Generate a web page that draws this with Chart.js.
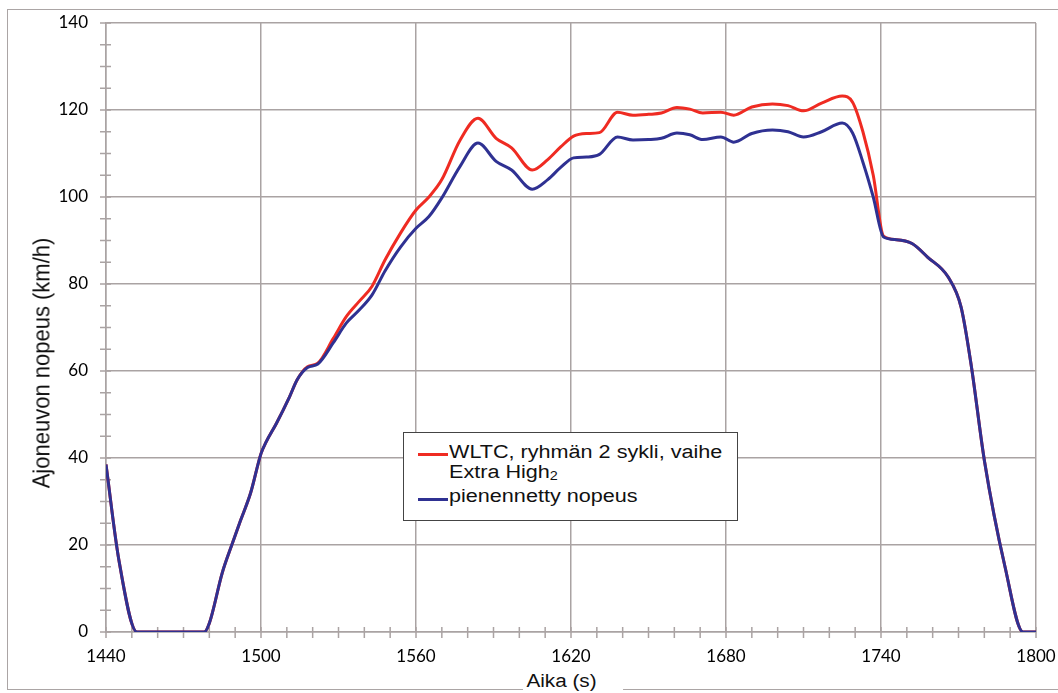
<!DOCTYPE html>
<html>
<head>
<meta charset="utf-8">
<script src="https://cdn.jsdelivr.net/npm/chart.js@4.4.0/dist/chart.umd.min.js"></script>
<style>
  html, body { margin: 0; padding: 0; background: #fff; }
  #wrap { position: relative; width: 1058px; height: 693px; overflow: hidden; }
  #frame { position: absolute; left: 7px; top: 9px; width: 1070px; height: 679px; border: 1.5px solid #aba5a5; }
  #speedChart { position: absolute; left: 0; top: 0; }
  .axis-title { position: absolute; font-family: "Liberation Sans", Arial, sans-serif; color: #111; white-space: nowrap; }
  #yTitle { left: -108px; top: 351px; width: 300px; height: 24px; line-height: 24px; font-size: 22px; text-align: center; transform: rotate(-90deg) scaleY(1.12); }
  #xTitle { left: 523px; top: 670px; width: 84px; height: 22px; line-height: 22px; font-size: 18px; padding-left: 3px; background: #fff; transform: scaleX(1.15); transform-origin: left center; }
  #legend { position: absolute; left: 403px; top: 432px; width: 333px; height: 87px; border: 1.5px solid #444; background: #fff; }
  .lg-line { position: absolute; left: 14px; width: 30px; height: 3px; }
  .lg-text { position: absolute; left: 45px; font-family: "Liberation Sans", Arial, sans-serif; font-size: 18px; line-height: 20px; color: #111; white-space: nowrap; transform: scaleX(1.2); transform-origin: left center; }
  .lg-text sub { font-size: 12px; vertical-align: -2px; }
</style>
</head>
<body>
<div id="wrap">
  <div id="frame"></div>
  <canvas id="speedChart" width="1058" height="693"></canvas>
  <div class="axis-title" id="yTitle">Ajoneuvon nopeus (km/h)</div>
  <div class="axis-title" id="xTitle">Aika (s)</div>
  <div id="legend">
    <div class="lg-line" style="top:20px;background:#ef2b22"></div>
    <div class="lg-text" style="top:9px">WLTC, ryhmän 2 sykli, vaihe</div>
    <div class="lg-text" style="top:29px">Extra High<sub>2</sub></div>
    <div class="lg-line" style="top:65px;background:#2f3192"></div>
    <div class="lg-text" style="top:53px">pienennetty nopeus</div>
  </div>
</div>
<script>
// time stamps (s) and speeds (km/h)
const times = [1440, 1445, 1452, 1478, 1480, 1485, 1489, 1492, 1496, 1500,
    1502, 1506, 1511, 1514, 1518, 1522, 1528, 1533, 1538, 1543,
    1548, 1554, 1560, 1565, 1570, 1577, 1584, 1591, 1597, 1605,
    1611, 1616, 1621, 1626, 1631, 1638, 1644, 1650, 1655, 1661,
    1666, 1671, 1678, 1683, 1690, 1698, 1704, 1710, 1717, 1725,
    1729, 1733, 1737, 1741, 1746, 1752, 1758, 1766, 1771, 1775,
    1780, 1788, 1795, 1800];

const wltcSpeed = [38.5, 16.5, 0, 0, 2, 13.6, 20.5, 25.5, 32, 41,
    43.7, 48, 54, 58, 61, 61.8, 67.5, 72.5, 76, 79.5,
    85.5, 91.7, 97, 100, 104, 113, 118.1, 113.5, 111.3, 106.2,
    108.6, 111.5, 114, 114.6, 114.8, 119.5, 118.8, 119, 119.3, 120.6,
    120.2, 119.3, 119.5, 118.8, 120.7, 121.4, 121, 119.8, 121.6, 123.2,
    121.8, 115, 105, 91, 90.2, 89.3, 86.2, 81.6, 74.7, 61,
    39.5, 15, 0, 0];

const reducedSpeed = [38.5, 16.5, 0, 0, 2, 13.6, 20.5, 25.5, 32, 41,
    43.7, 48, 54, 58, 60.8, 61.6, 66.5, 71, 74, 77.5,
    83, 88.5, 92.8, 95.5, 99.8, 107, 112.4, 108.2, 106.2, 101.8,
    104, 106.8, 109, 109.2, 109.8, 113.8, 113.1, 113.2, 113.5, 114.7,
    114.3, 113.2, 113.8, 112.6, 114.6, 115.4, 115, 113.8, 115, 117,
    114.7, 108, 100, 90.8, 90.2, 89.3, 86.2, 81.6, 74.7, 61,
    39.5, 15, 0, 0];

const xTicks = [1440, 1500, 1560, 1620, 1680, 1740, 1800];
const yTicks = [0, 20, 40, 60, 80, 100, 120, 140];

const gridColor = '#aaa3a3';

const toPoints = (ys) => times.map((t, i) => ({ x: t, y: ys[i] }));

// small tick marks crossing both axes (every 10 s / 5 km/h)
const axisMarks = {
    id: 'axisMarks',
    beforeDatasetsDraw(chart) {
        const { ctx, scales: { x, y } } = chart;
        ctx.save();
        ctx.strokeStyle = gridColor;
        ctx.lineWidth = 1.5;
        ctx.beginPath();
        for (let t = 1440; t <= 1800; t += 10) {
            const px = x.getPixelForValue(t);
            ctx.moveTo(px, y.bottom - 5);
            ctx.lineTo(px, y.bottom + 6);
        }
        for (let v = 0; v <= 140; v += 5) {
            const py = y.getPixelForValue(v);
            ctx.moveTo(x.left - 6, py);
            ctx.lineTo(x.left + 5, py);
        }
        ctx.stroke();
        ctx.restore();
    }
};

// fixed axis sizes, no extra room for overhanging labels
const fixSize = (w, h) => (scale) => {
    if (w) scale.width = w;
    if (h) scale.height = h;
    scale.paddingTop = 0;
    scale.paddingBottom = 0;
    scale.paddingLeft = 0;
    scale.paddingRight = 0;
};

const speedChart = new Chart(document.getElementById('speedChart').getContext('2d'), {
    type: 'line',
    data: {
        datasets: [{
            label: 'WLTC, ryhmän 2 sykli, vaihe Extra High2',
            data: toPoints(wltcSpeed),
            borderColor: '#ef2b22',
            borderWidth: 3,
            pointRadius: 0,
            cubicInterpolationMode: 'monotone',
            fill: false,
            order: 1
        }, {
            label: 'pienennetty nopeus',
            data: toPoints(reducedSpeed),
            borderColor: '#2f3192',
            borderWidth: 3,
            pointRadius: 0,
            cubicInterpolationMode: 'monotone',
            fill: false,
            order: 0
        }]
    },
    options: {
        responsive: false,
        animation: false,
        devicePixelRatio: 1,
        layout: { padding: { top: 23, right: 22, left: 0, bottom: 0 } },
        plugins: {
            legend: { display: false },
            tooltip: { enabled: false }
        },
        scales: {
            x: {
                type: 'linear',
                min: 1440,
                max: 1800,
                afterBuildTicks: (scale) => { scale.ticks = xTicks.map(v => ({ value: v })); },
                afterFit: fixSize(0, 61),
                ticks: {
                    padding: 14,
                    color: '#000',
                    font: { family: 'Lato', size: 17 },
                    maxRotation: 0,
                    callback: (v) => String(v)
                },
                grid: { color: gridColor, lineWidth: 1.5, drawTicks: false },
                border: { color: gridColor, width: 1.5 }
            },
            y: {
                min: 0,
                max: 140,
                afterBuildTicks: (scale) => { scale.ticks = yTicks.map(v => ({ value: v })); },
                afterFit: fixSize(106, 0),
                ticks: {
                    padding: 18,
                    color: '#000',
                    font: { family: 'Lato', size: 17 },
                    callback: (v) => String(v)
                },
                grid: { color: gridColor, lineWidth: 1.5, drawTicks: false },
                border: { color: gridColor, width: 1.5 }
            }
        }
    },
    plugins: [axisMarks]
});
</script>
</body>
</html>
